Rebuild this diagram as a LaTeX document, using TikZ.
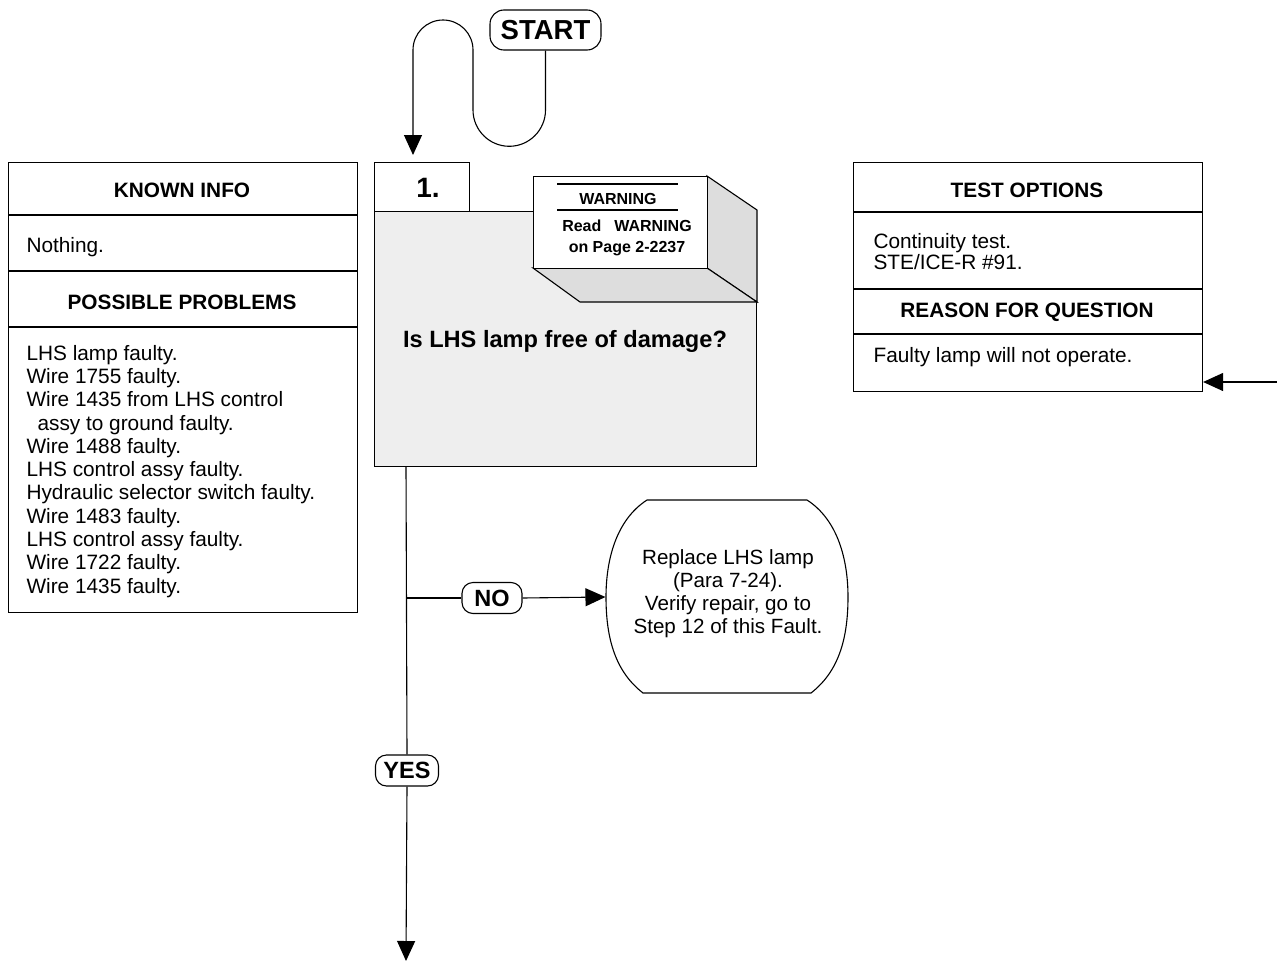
\documentclass[tikz,border=0pt]{standalone}
\usepackage{fontspec}
\setmainfont{Liberation Sans}
\usetikzlibrary{arrows.meta}
\definecolor{panel}{HTML}{EEEEEE}
\definecolor{side}{HTML}{DDDDDD}
\begin{document}
\begin{tikzpicture}[x=1pt,y=-1pt,line width=1.1pt,
  txt/.style={font=\fontsize{20.8}{23.3}\selectfont, inner sep=0pt},
  head/.style={font=\bfseries\fontsize{20.8}{24}\selectfont, inner sep=0pt},
  frame/.style={draw, anchor=north west, inner sep=0pt},
  tag/.style={draw, fill=white, rounded corners=11pt, inner sep=0pt, font=\bfseries},
  arr/.style={-{Triangle[length=20pt,width=18pt]}}]
\useasboundingbox (0,0) rectangle (1277,961);

% ---- known info / possible problems panel
\node[frame, minimum width=349pt, minimum height=450pt] (known) at (8,162) {};
\draw (8,215) -- (357,215);
\draw (8,271) -- (357,271);
\draw (8,327) -- (357,327);
\node[head] (knownh) at (182,190) {KNOWN INFO};
\node[txt, anchor=west] (nothing) at (26,247) {Nothing.};
\node[head] (probh) at (182,302) {POSSIBLE PROBLEMS};
\node[txt, anchor=north west, align=left] (probs) at (26,344.5) {LHS lamp faulty.\\
Wire 1755 faulty.\\
Wire 1435 from LHS control\\
\hspace*{11pt}assy to ground faulty.\\
Wire 1488 faulty.\\
LHS control assy faulty.\\
Hydraulic selector switch faulty.\\
Wire 1483 faulty.\\
LHS control assy faulty.\\
Wire 1722 faulty.\\
Wire 1435 faulty.};

% ---- test options / reason panel
\node[frame, minimum width=349pt, minimum height=229pt] (tests) at (853,162) {};
\draw (853,212) -- (1202,212);
\draw (853,289) -- (1202,289);
\draw (853,334) -- (1202,334);
\node[head] (testh) at (1027,190) {TEST OPTIONS};
\node[anchor=north west, align=left, inner sep=0pt, font=\fontsize{20.8}{21}\selectfont] (testt) at (873,232.5) {Continuity test.\\STE/ICE-R \#91.};
\node[head] (reasonh) at (1027,312) {REASON FOR QUESTION};
\node[txt, anchor=west] (reason) at (873,357) {Faulty lamp will not operate.};
\coordinate (feed) at (1277,382);
\draw[arr] (feed) -- (tests.south east |- feed);

% ---- step 1 box
\node[frame, fill=panel, minimum width=382pt, minimum height=255pt] (qbox) at (374,211) {};
\node[frame, fill=white, minimum width=95pt, minimum height=49pt] (stepno) at (374,162) {};
\node[font=\bfseries\fontsize{28}{30}\selectfont] (stepl) at (428,188) {1.};
\node[font=\bfseries\fontsize{23.6}{26}\selectfont] (quest) at (565,341) {Is LHS lamp free of damage?};

% ---- 3-D warning block
\draw[fill=side] (707,176) -- (757,210) -- (757,302) -- (707,268) -- cycle;
\draw[fill=side] (533,268) -- (707,268) -- (757,302) -- (580,302) -- cycle;
\node[frame, fill=white, minimum width=174pt, minimum height=92pt] (warn) at (533,176) {};
\draw (557,184) -- (678,184);
\draw (557,210) -- (678,210);
\node[font=\bfseries\fontsize{16}{18}\selectfont] (warnh) at (618,199) {WARNING};
\node[font=\bfseries\fontsize{16}{21}\selectfont, align=center] (warnt) at (627,238) {Read\hspace{13pt}WARNING\\on Page 2-2237};

% ---- start and entry loop
\node[tag, rounded corners=14pt, minimum width=111pt, minimum height=40pt, font=\bfseries\fontsize{27.5}{30}\selectfont] (start) at (545.5,30) {START};
\coordinate (entry) at (413,155);
\draw[arr] (start.south) -- (545.5,110)
  .. controls (545.5,130) and (529.2,146.3) .. (509.3,146.3)
  .. controls (489.3,146.3) and (473,130) .. (473,110)
  -- (473,50)
  .. controls (473,33.4) and (459.6,20) .. (443,20)
  .. controls (426.4,20) and (413,33.4) .. (413,50)
  -- (entry);

% ---- repair terminal
\node[minimum width=242pt, minimum height=193pt, inner sep=0pt] (fix) at (727,597) {};
\draw (647,500) -- (807,500)
  .. controls (838,520) and (848,560) .. (848,597)
  .. controls (848,640) and (838,672) .. (811,693)
  -- (643,693)
  .. controls (616,672) and (606,640) .. (606,597)
  .. controls (606,560) and (616,520) .. (647,500) -- cycle;
\node[txt, align=center, font=\fontsize{20.6}{23}\selectfont] (fixt) at (728,594) {Replace LHS lamp\\(Para 7-24).\\Verify repair, go to\\Step 12 of this Fault.};

% ---- decision branches
\coordinate (trunk) at (406,466);
\coordinate (branch) at (406,598);
\coordinate (exit) at (406,961);
\node[tag, minimum width=60pt, minimum height=31pt, font=\bfseries\fontsize{23.5}{26}\selectfont] (no) at (492,598) {NO};
\node[tag, minimum width=63pt, minimum height=31pt, font=\bfseries\fontsize{23.5}{26}\selectfont] (yes) at (407,770.5) {YES};
\draw (trunk) -- (yes.north);
\draw (branch) -- (no.west);
\draw[arr] (no.east) -- (fix.west);
\draw[arr] (yes.south) -- (exit);
\end{tikzpicture}
\end{document}
